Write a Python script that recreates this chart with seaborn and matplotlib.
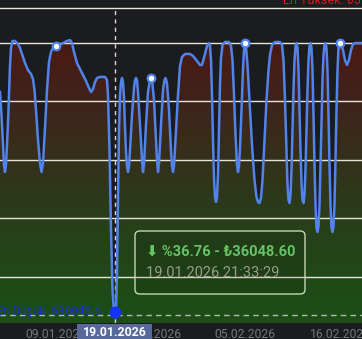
import numpy as np
import pandas as pd
import matplotlib
matplotlib.use("Agg")
import matplotlib.pyplot as plt
import seaborn as sns
from matplotlib.colors import LinearSegmentedColormap
from matplotlib.patches import FancyBboxPatch, Rectangle
import matplotlib.transforms as mtransforms

# ---------------- data ----------------
t = [0, 1.5, 3, 4, 5, 6, 7, 8.5, 10, 11, 12.5, 15, 18, 20, 22, 25, 28, 31, 33, 34.5,
     36, 38, 40, 41.5, 43, 45, 47, 49, 51, 53, 56, 60, 63, 67, 70, 72, 74, 77, 80, 83,
     86, 89, 91, 93, 95, 97, 100, 105, 107, 108, 109.5, 111, 112.5, 114, 115, 116, 117, 118, 119, 120,
     121, 122, 123, 124, 125, 126, 127, 128, 129, 130, 132, 134, 135, 136, 137, 138, 140, 142, 143, 144,
     146, 148, 150, 151, 152, 154, 156, 157, 158, 159, 161, 163, 164.5, 165.5, 167, 169, 171, 172, 173, 174,
     176, 178, 180, 182, 185, 190, 193, 197, 200, 202, 205, 207, 209, 210, 211, 212, 213, 214, 215, 216,
     217, 218, 219, 220, 221, 222.5, 225, 229, 231, 232.5, 234, 235.5, 237, 238, 239, 240, 241.5, 243, 244, 245,
     246, 247.5, 249.5, 252, 254.5, 256.5, 258, 259.5, 261, 262.5, 264.5, 266.5, 268.5, 270, 272, 275, 280, 282, 283.5, 285,
     286.5, 287.5, 288.5, 289.5, 290.5, 291.5, 292.5, 293.5, 294.5, 295.5, 296.5, 297.5, 298.5, 299.5, 300.5, 301.5, 302.5, 303.5, 304.5, 305.5,
     306.5, 307.5, 308.5, 309.5, 310.5, 311.5, 312.5, 313.5, 314.5, 315.5, 316.5, 317.5, 318.5, 319.5, 320.5, 321.5, 322.5, 323.5, 324.5, 325.5,
     326.5, 327.5, 328.5, 329.5, 330.5, 331.5, 332.5, 333.5, 334.5, 335.5, 336.5, 337.5, 338.5, 339.5, 341, 343, 345, 347, 349, 351,
     353, 356, 362]
price = [53220, 51450, 49140, 47600, 47060, 47600, 49140, 51830, 55300, 56610, 57150, 57150, 56920, 56610, 56150, 55450, 54910, 54610, 54220, 53370,
         51830, 49520, 47750, 47060, 47750, 50450, 53370, 55530, 56300, 56610, 56760, 56840, 56990, 57150, 57220, 56990, 56300, 55450, 54990, 54530,
         54070, 53530, 53220, 53450, 53990, 54300, 54380, 54380, 54140, 52990, 48750, 42590, 37970, 36280, 36048.6, 36430, 39510, 44900, 50290, 52990,
         53990, 54300, 53990, 52760, 50450, 48600, 47520, 47060, 47520, 48750, 51450, 53530, 54140, 54300, 54140, 53220, 50680, 47980, 47060, 47680,
         50680, 53220, 54140, 54300, 54140, 52600, 49520, 47980, 47060, 47680, 50680, 53370, 54140, 54300, 53910, 51830, 48750, 47520, 47060, 47520,
         50290, 52990, 55220, 55910, 56150, 56150, 55990, 55610, 55300, 55300, 56150, 56760, 56990, 56760, 55680, 52990, 49520, 46600, 45130, 44750,
         45130, 46830, 50290, 53760, 55840, 56840, 57070, 57070, 56760, 55680, 52990, 49910, 47600, 47060, 47520, 48910, 51830, 54990, 56450, 56990,
         56690, 55300, 52600, 49140, 46440, 45130, 44750, 44670, 45060, 46440, 49520, 52600, 54910, 56070, 56840, 57070, 57070, 56840, 55680, 52600,
         48750, 46060, 44900, 44670, 45290, 47220, 50290, 53370, 55680, 56760, 56990, 56610, 54910, 51830, 48750, 46210, 44900, 44670, 45290, 47220,
         50290, 53370, 55680, 56760, 56990, 56610, 54910, 51450, 47600, 44520, 42750, 42440, 42900, 44520, 47600, 51060, 54140, 56070, 56840, 56990,
         56610, 54910, 51450, 47600, 44520, 42750, 42440, 42900, 44520, 47980, 51830, 54910, 56610, 56990, 56920, 56450, 55680, 55300, 55680, 56450,
         56920, 56990, 56990]

mark_t = [56, 151, 245, 339.5]
mark_p = [56760, 54300, 56990, 56990]
min_t = [115]
min_p = [36048.6]
grid_vals = [39000, 43500, 48000, 52500, 57000]
tick_pos = [56, 151, 245, 340]
tick_labels = ["09.01.2026", "26.01.2026", "05.02.2026", "16.02.2026"]
sel_label = "19.01.2026"
tip_line1 = "\u2b07 %36.76 - \u20ba36048.60"
tip_line2 = "19.01.2026 21:33:29"
low_text = "En D\u00fc\u015f\u00fck: \u20ba36048.6"
high_text = "En Y\u00fcksek: \u20ba57224.0"

df = pd.DataFrame({"t": t, "price": price})

# ---------------- style ----------------
BG = "#1b1c20"
LINE = "#5283e8"
FONT = ["Roboto", "DejaVu Sans"]
plt.rcParams["font.family"] = FONT

fig = plt.figure(figsize=(3.62, 3.39), dpi=100, facecolor=BG)
ax = fig.add_axes([0, 16 / 339, 1, 315 / 339])
ax.set_facecolor(BG)

XMIN, XMAX = 0, 362
YMIN, YMAX = 35432.6, 59687.6

# gradient fill under the line
poly = ax.fill_between(df["t"], df["price"], YMIN, color="none", lw=0)
cmap = LinearSegmentedColormap.from_list(
    "g", [(0.0, "#1c4f16"), (0.3, "#25421a"), (0.55, "#33321b"), (0.8, "#40231a"), (1.0, "#4b1913")])
grad = np.linspace(0, 1, 256).reshape(-1, 1)
im = ax.imshow(grad, cmap=cmap, aspect="auto", origin="lower",
               extent=[XMIN, XMAX, YMIN, max(price)], zorder=1, interpolation="bicubic")
im.set_clip_path(poly.get_paths()[0], transform=ax.transData)

# grid lines
ax.set_yticks(grid_vals)
ax.yaxis.grid(True, color="#e6e6d8", lw=1)
ax.xaxis.grid(False)
ax.set_axisbelow("line")

# crosshair
ax.axvline(min_t[0], color="#d8d8d8", lw=1, ls=(0, (3, 3)), zorder=2.6)
ax.axhline(min_p[0], color="#b8b8b8", lw=1, ls=(0, (4, 3)), zorder=2.6)

# line
sns.lineplot(data=df, x="t", y="price", color=LINE, lw=1.8, ax=ax, zorder=3, legend=False)

# markers
sns.scatterplot(x=mark_t, y=mark_p, s=30, color="white", edgecolor=LINE, linewidth=1.6, ax=ax, zorder=4)
sns.scatterplot(x=min_t, y=[min_p[0] + 250], s=75, color="#1434f5", edgecolor="#1434f5", linewidth=0, ax=ax, zorder=4)

ax.set_xlim(XMIN, XMAX)
ax.set_ylim(YMIN, YMAX)
ax.set_xlabel("")
ax.set_ylabel("")

for side in ["left", "right", "bottom"]:
    ax.spines[side].set_visible(False)
ax.spines["top"].set_color("#e6e6d8")
ax.spines["top"].set_linewidth(1)

ax.tick_params(axis="y", left=False, labelleft=False)
ax.set_xticks(tick_pos)
ax.set_xticklabels(tick_labels)
ax.tick_params(axis="x", length=0, pad=3.5, labelsize=8.7, labelcolor="#74777c")

# selected date label box
trans = mtransforms.blended_transform_factory(ax.transData, ax.transAxes)
ax.add_patch(Rectangle((77, -0.06), 75, 0.06 - 1 / 315, transform=trans, facecolor="#58699c",
                       edgecolor="none", clip_on=False, zorder=10))
ax.text(min_t[0], -10 / 315, sel_label, transform=trans, ha="center", va="center",
        color="white", fontsize=8.8, fontweight="bold", zorder=11, clip_on=False)

# tooltip
ax.add_patch(FancyBboxPatch((135 / 362, (323 - 294) / 315), 170 / 362, 63 / 315,
                            boxstyle="round,pad=0,rounding_size=0.014", transform=ax.transAxes,
                            facecolor=(0, 0, 0, 0.10), edgecolor="#c4d6b4", lw=1, zorder=8))
ax.text(146 / 362, (323 - 252) / 315, tip_line1, transform=ax.transAxes, ha="left", va="center",
        color="#66c466", fontsize=10.5, fontweight="bold", zorder=9)
ax.text(146 / 362, (323 - 273) / 315, tip_line2, transform=ax.transAxes, ha="left", va="center",
        color="#9a9c8e", fontsize=10.5, zorder=9)

# min / max annotations
ax.text(101 / 362, (323 - 312) / 315, low_text, transform=ax.transAxes, ha="right", va="center",
        color="#1f36b8", fontsize=8.6, zorder=9)
fig.text(283 / 362, 1 - 3.5 / 339, high_text, ha="left", va="baseline", color="#cc1c1c", fontsize=9)

fig.savefig("out.png", dpi=100, facecolor=BG)
